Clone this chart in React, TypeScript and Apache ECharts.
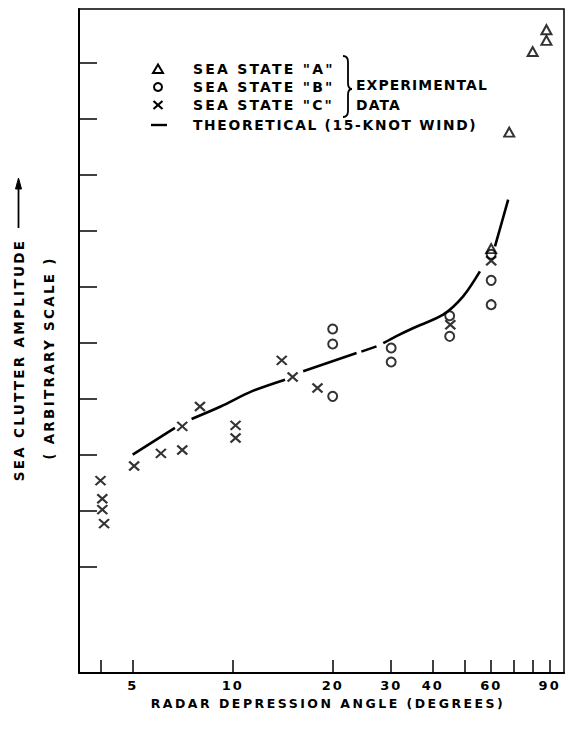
import React, { useEffect, useRef } from "react";
import * as echarts from "echarts";

// ---- axis ticks / labels (degrees) ----
const xTickAngles = [4, 5, 10, 20, 30, 40, 50, 60, 70, 80, 90];
const xLabelAngles = [5, 10, 20, 30, 40, 60, 90];
const yTickValues = [1, 2, 3, 4, 5, 6, 7, 8, 9, 10];

// ---- experimental data: [angle (deg), amplitude (arbitrary)] ----
const seaStateA: [number, number][] = [
  [60, 6.68],
  [68, 8.76],
  [80, 10.2],
  [88, 10.4],
  [88, 10.59],
];
const seaStateB: [number, number][] = [
  [20, 5.245],
  [20, 4.977],
  [20, 4.041],
  [30, 4.905],
  [30, 4.655],
  [45, 5.482],
  [45, 5.113],
  [60, 6.58],
  [60, 6.113],
  [60, 5.679],
];
const seaStateC: [number, number][] = [
  [4.0, 2.536],
  [4.05, 2.214],
  [4.05, 2.018],
  [4.1, 1.768],
  [5.05, 2.798],
  [6.08, 3.023],
  [7.05, 3.084],
  [7.05, 3.505],
  [7.97, 3.862],
  [10.2, 3.523],
  [10.2, 3.298],
  [14.05, 4.684],
  [15.15, 4.387],
  [18, 4.191],
  [45.2, 5.321],
  [60, 6.464],
];

// ---- theoretical curve (null = pen lift) ----
const theoAngles = [5, 6.7, 7.1, 7.52, 9.2, 11.4, 14.37, 15.3, 16.3, 23.6, 24.0, 24.4, 27.1, 27.8, 28.4, 31, 35, 43, 49.4, 55.5, 58.5, 61.6, 64.5, 67.5];
const theoValues: (number | null)[] = [3.0, 3.477, null, 3.637, 3.86, 4.13, 4.339, null, 4.488, 4.816, null, 4.84, 4.934, null, 4.99, 5.113, 5.263, 5.5, 5.827, 6.273, null, 6.72, 7.138, 7.554];

const FONT = "DejaVu Sans";
const L = (v: number) => Math.log10(v);

const braceD =
  "M0,0 C4,0 5,2 5,6 L5,27 C5,31 6,33 9,33 C6,33 5,35 5,39 L5,55 C5,59 4,61 0,61";
let braceRegistered = false;
function ensureBrace() {
  if (braceRegistered) return;
  echarts.graphic.registerShape("brace", echarts.graphic.extendPath(braceD, {}) as any);
  braceRegistered = true;
}

const txt = (x: number, y: number, text: string, size: number, extra: any = {}) => ({
  type: "text",
  x,
  y,
  ...extra,
  style: {
    text,
    fill: "#000",
    fontSize: size,
    fontWeight: "bold",
    fontFamily: FONT,
    align: "left",
    verticalAlign: "middle",
    ...(extra.style || {}),
  },
});

// legend row positions
const rowA = 69, rowB = 87, rowC = 105, rowT = 125;
const symX = 158, textX = 193;

export default function App() {
  const ref = useRef<HTMLDivElement>(null);

  useEffect(() => {
    if (!ref.current) return;
    ensureBrace();
    const chart = echarts.init(ref.current, undefined, { renderer: "svg" });

    const crossPath = "path://M0,0L10,10M10,0L0,10";
    const hollow = { color: "rgba(0,0,0,0)", borderColor: "#000", borderWidth: 2 };

    const option: any = {
      animation: false,
      backgroundColor: "#fff",
      grid: {
        left: 79,
        right: 5,
        top: 9,
        bottom: 60,
        show: true,
        borderColor: "#000",
        borderWidth: 1.5,
      },
      xAxis: {
        type: "value",
        min: L(3.446),
        max: L(99.4),
        name: "RADAR DEPRESSION ANGLE (DEGREES)",
        nameLocation: "middle",
        nameGap: 22,
        nameTextStyle: {
          fontSize: 12.5,
          fontWeight: "bold",
          color: "#000",
          fontFamily: FONT,
          padding: [0, 0, 0, 13],
        },
        axisLine: { onZero: false, lineStyle: { color: "#000", width: 2 } },
        axisTick: {
          inside: true,
          length: 13,
          customValues: xTickAngles.map(L),
          lineStyle: { color: "#000", width: 1.5 },
        },
        axisLabel: {
          customValues: xLabelAngles.map(L),
          formatter: (v: number) => String(Math.round(Math.pow(10, v))),
          fontSize: 13,
          fontWeight: "bold",
          color: "#000",
          fontFamily: FONT,
          margin: 6,
        },
        splitLine: { show: false },
      },
      yAxis: {
        type: "value",
        min: -0.9,
        max: 10.96,
        axisLine: { show: true, onZero: false, lineStyle: { color: "#000", width: 2 } },
        axisTick: {
          inside: true,
          length: 18,
          customValues: yTickValues,
          lineStyle: { color: "#000", width: 1.5 },
        },
        axisLabel: { show: false },
        splitLine: { show: false },
      },
      series: [
        {
          name: "THEORETICAL (15-KNOT WIND)",
          type: "line",
          smooth: 0.3,
          showSymbol: false,
          connectNulls: false,
          z: 1,
          lineStyle: { color: "#000", width: 2.6 },
          data: theoAngles.map((a, i) => [L(a), theoValues[i] == null ? "-" : theoValues[i]]),
        },
        {
          name: 'SEA STATE "A"',
          type: "scatter",
          symbol: "triangle",
          symbolSize: [10, 9],
          z: 3,
          itemStyle: hollow,
          data: seaStateA.map(([a, v]) => [L(a), v]),
        },
        {
          name: 'SEA STATE "B"',
          type: "scatter",
          symbol: "circle",
          symbolSize: 9,
          z: 3,
          itemStyle: hollow,
          data: seaStateB.map(([a, v]) => [L(a), v]),
        },
        {
          name: 'SEA STATE "C"',
          type: "scatter",
          symbol: crossPath,
          symbolSize: [10, 9],
          z: 3,
          itemStyle: { color: "rgba(0,0,0,0)", borderColor: "#000", borderWidth: 2.2 },
          data: seaStateC.map(([a, v]) => [L(a), v]),
        },
      ],
      graphic: [
        // legend symbols
        {
          type: "polygon",
          shape: { points: [[symX, rowA - 4.5], [symX + 5, rowA + 4], [symX - 5, rowA + 4]] },
          style: { fill: "none", stroke: "#000", lineWidth: 2 },
        },
        {
          type: "circle",
          shape: { cx: symX, cy: rowB, r: 4 },
          style: { fill: "none", stroke: "#000", lineWidth: 2 },
        },
        {
          type: "line",
          shape: { x1: symX - 4.5, y1: rowC - 4, x2: symX + 4.5, y2: rowC + 4 },
          style: { stroke: "#000", lineWidth: 2.2 },
        },
        {
          type: "line",
          shape: { x1: symX + 4.5, y1: rowC - 4, x2: symX - 4.5, y2: rowC + 4 },
          style: { stroke: "#000", lineWidth: 2.2 },
        },
        {
          type: "line",
          shape: { x1: symX - 7, y1: rowT, x2: symX + 9, y2: rowT },
          style: { stroke: "#000", lineWidth: 2.4 },
        },
        txt(textX, rowA, 'SEA STATE "A"', 14),
        txt(textX, rowB, 'SEA STATE "B"', 14),
        txt(textX, rowC, 'SEA STATE "C"', 14),
        txt(textX, rowT, "THEORETICAL (15-KNOT WIND)", 13.8),
        {
          type: "brace",
          x: 343,
          y: rowA - 13,
          style: { fill: "none", stroke: "#000", lineWidth: 1.8 },
        },
        txt(356, rowB - 2, "EXPERIMENTAL", 13.9),
        txt(356, rowC, "DATA", 13.9),
        // y-axis titles
        txt(18.5, 360, "SEA CLUTTER AMPLITUDE", 13.5, {
          rotation: Math.PI / 2,
          style: { align: "center" },
        }),
        txt(48.5, 358, "( ARBITRARY SCALE )", 13.5, {
          rotation: Math.PI / 2,
          style: { align: "center" },
        }),
        {
          type: "line",
          shape: { x1: 18.5, y1: 228, x2: 18.5, y2: 186 },
          style: { stroke: "#000", lineWidth: 1.8 },
        },
        {
          type: "polygon",
          shape: { points: [[18.5, 178], [21.5, 189], [15.5, 189]] },
          style: { fill: "#000", stroke: "#000", lineWidth: 1 },
        },
      ],
    };

    chart.setOption(option);
    return () => chart.dispose();
  }, []);

  const css = `
    #chart-root text[style*="14px"] { letter-spacing: 2.2px; }
    #chart-root text[style*="13.9px"] { letter-spacing: 1.1px; }
    #chart-root text[style*="13.8px"] { letter-spacing: 1.7px; }
    #chart-root text[style*="13.5px"] { letter-spacing: 2.3px; }
    #chart-root text[style*="12.5px"] { letter-spacing: 2.5px; }
    #chart-root text[style*="13px"] { letter-spacing: 2px; }
  `;

  return (
    <>
      <style>{css}</style>
      <div
        id="chart-root"
        ref={ref}
        style={{ position: "fixed", left: 0, top: 0, width: 569, height: 733, background: "#fff" }}
      />
    </>
  );
}
